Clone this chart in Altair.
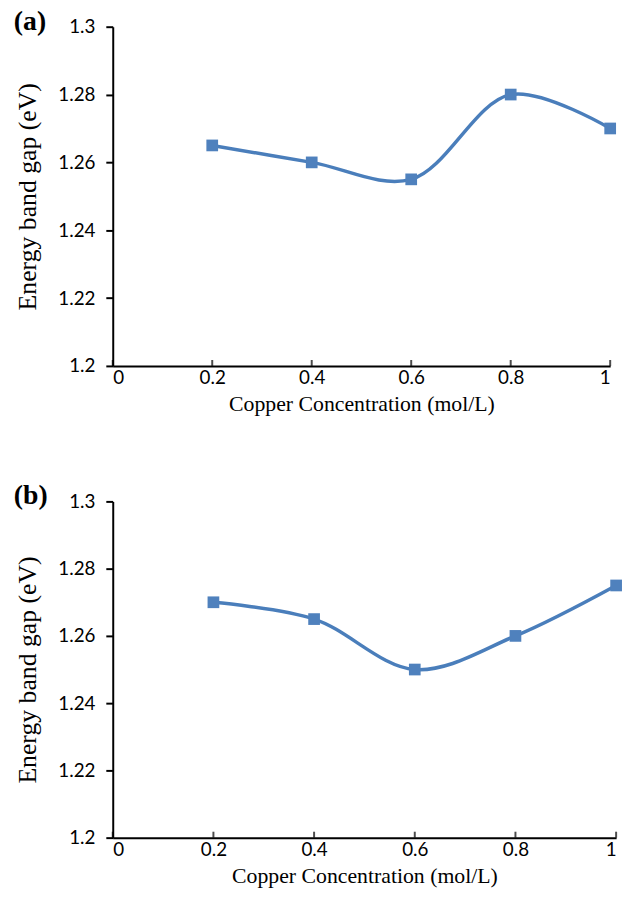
import altair as alt
import pandas as pd

conc = [0.2, 0.4, 0.6, 0.8, 1.0]
gap_a = [1.265, 1.260, 1.255, 1.280, 1.270]
gap_b = [1.270, 1.265, 1.250, 1.260, 1.275]

x_ticks = [0, 0.2, 0.4, 0.6, 0.8, 1.0]
y_ticks = [1.2, 1.22, 1.24, 1.26, 1.28, 1.3]

LINE = "#4a7ebb"
MARK = "#4f81bd"


def panel(values, label, w, h):
    df = pd.DataFrame({"c": conc, "g": values})
    tick_df = pd.DataFrame({"c": x_ticks, "g": [1.2] * len(x_ticks)})
    lab_df = pd.DataFrame({"t": [label]})
    xs = alt.Scale(domain=[0, 1], nice=False)
    ys = alt.Scale(domain=[1.2, 1.3], nice=False, zero=False)
    x = alt.X("c:Q", scale=xs,
              axis=alt.Axis(values=x_ticks, format=".1~f", ticks=False, tickSize=0,
                            labelPadding=3, titlePadding=6,
                            title="Copper Concentration (mol/L)"))
    y = alt.Y("g:Q", scale=ys,
              axis=alt.Axis(values=y_ticks, format=".2~f", tickSize=7,
                            labelPadding=11, titlePadding=18, titleFontSize=26,
                            title="Energy band gap (eV)"))
    base = alt.Chart(df).encode(x=x, y=y)
    line = base.mark_line(interpolate="catmull-rom", color=LINE, strokeWidth=3.5)
    pts = base.mark_point(shape="square", filled=True, size=140, color=MARK, opacity=1)
    xt = alt.Chart(tick_df).mark_tick(
        orient="vertical", color="black", thickness=2, size=6, yOffset=-3
    ).encode(x=alt.X("c:Q", scale=xs), y=alt.Y("g:Q", scale=ys))
    lab = alt.Chart(lab_df).mark_text(
        font="Liberation Serif", fontSize=28, fontWeight="bold", color="black",
        align="left", baseline="alphabetic",
    ).encode(text="t:N", x=alt.value(-100), y=alt.value(3))
    return (xt + line + pts + lab).properties(width=w, height=h)


chart = alt.vconcat(
    panel(gap_a, "(a)", 503, 343),
    panel(gap_b, "(b)", 509, 340),
    spacing=69,
).properties(
    padding={"left": 14, "top": 3, "right": 4, "bottom": 5},
).configure_view(stroke=None).configure_axis(
    domainColor="black", domainWidth=2, tickColor="black", tickWidth=2,
    grid=False, labelFont="Lato", labelFontSize=19, labelColor="black",
    titleFont="Liberation Serif", titleFontSize=22, titleFontWeight="normal",
    titleColor="black",
)

chart.save("out.html", embed_options={"renderer": "svg", "actions": False})
